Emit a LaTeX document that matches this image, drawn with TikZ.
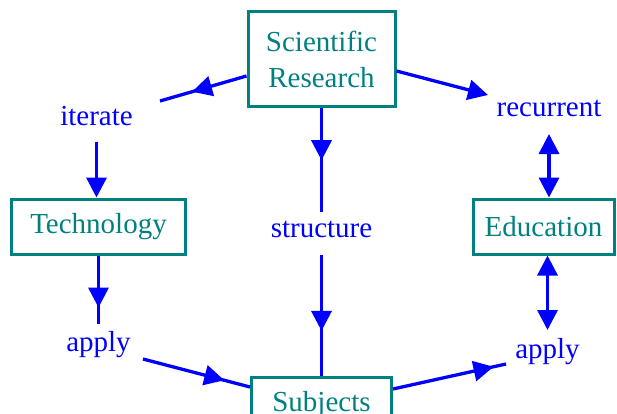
\documentclass[tikz,border=0pt]{standalone}
\usepackage{fontspec}
\setmainfont{Liberation Serif}
\usetikzlibrary{arrows.meta,positioning,decorations.markings}
\definecolor{boxteal}{RGB}{0,128,128}
\tikzstyle{block} = [rectangle, draw=boxteal, line width=3pt, text=boxteal, align=center, inner sep=0pt, minimum height=55pt]
\tikzstyle{lbl} = [text=blue, inner sep=1pt]
\tikzstyle{line} = [draw=blue, line width=3.3pt]
\tikzset{midarrow/.style={decoration={markings, mark=at position #1 with {\arrow{Triangle[length=20pt,width=20pt]}}}, postaction={decorate}}}

\begin{document}
\begin{tikzpicture}[on grid, font=\fontsize{29pt}{36pt}\selectfont, >={Triangle[length=20pt,width=20pt]}]
    \clip (0pt,0pt) rectangle (617pt,-414pt);
    \useasboundingbox (0pt,0pt) rectangle (617pt,-414pt);
    \node [block, minimum width=147pt, minimum height=95pt] (sr) at (321.5pt,-59.5pt) {Scientific\\Research};
    \node [lbl, below left=57pt and 225pt of sr] (iterate) {iterate};
    \node [lbl, below right=48.5pt and 227.5pt of sr] (recurrent) {recurrent};
    \node [block, minimum width=174pt, below left=167pt and 223pt of sr] (tech) {Technology};
    \node [lbl, below=169.5pt of sr] (structure) {structure};
    \node [block, minimum width=141pt, below right=167pt and 222pt of sr] (edu) {Education};
    \node [lbl, below=118.5pt of tech] (applyl) {apply};
    \node [lbl, below right=125.5pt and 4pt of edu] (applyr) {apply};
    \node [block, minimum width=140pt, minimum height=56pt, below=345.5pt of sr] (subjects) {Subjects};
    % free ends of the connectors
    \coordinate [below=16.5pt of sr.west] (srw);
    \coordinate [below=11.5pt of sr.east] (sre);
    \coordinate [above right=15.5pt and 63.5pt of iterate] (iterin);
    \coordinate [below=25.5pt of iterate] (iterout);
    \coordinate [above left=13pt and 61pt of recurrent] (recin);
    \coordinate [below=26pt of recurrent] (recout);
    \coordinate [above=17pt of structure] (strin);
    \coordinate [below=26pt of structure] (strout);
    \coordinate [above=21pt of applyl] (applin);
    \coordinate [below right=14pt and 44.5pt of applyl] (applout);
    \coordinate [above=18pt of subjects.west] (subw);
    \coordinate [above=16pt of subjects.east] (sube);
    \coordinate [below left=12pt and 41.5pt of applyr] (apprin);
    \coordinate [above=22pt of applyr] (apprtop);
    % connectors
    \path [line, midarrow=0.63] (srw) -- (iterin);
    \path [line, ->] (sre) -- (recin);
    \path [line, midarrow=0.5] (sr.south) -- (strin);
    \path [line, midarrow=0.63] (strout) -- (subjects.north);
    \path [line, ->] (iterout) -- (iterout |- tech.north);
    \path [line, midarrow=0.76] (tech.south) -- (applin);
    \path [line, midarrow=0.76] (applout) -- (subw);
    \path [line, midarrow=0.89] (sube) -- (apprin);
    \path [line, <->] (recout) -- (recout |- edu.north);
    \path [line, <->] (apprtop |- edu.south) -- (apprtop);
\end{tikzpicture}
\end{document}
